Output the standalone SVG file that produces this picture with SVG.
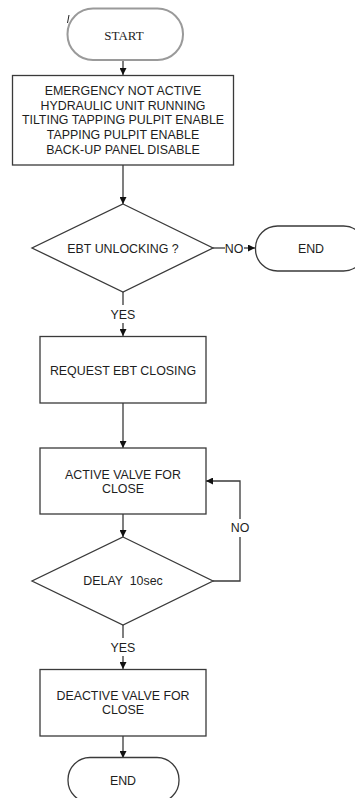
<svg xmlns="http://www.w3.org/2000/svg" width="355" height="798" viewBox="0 0 355 798">
  <style>
    .box { fill: #fff; stroke: #3a3a3a; stroke-width: 1.3; }
    .term { fill: #fff; stroke: #3a3a3a; stroke-width: 1.3; }
    .start { fill: #fff; stroke: #9a9a9a; stroke-width: 2; }
    .edge { fill: none; stroke: #3a3a3a; stroke-width: 1.3; }
    text { font-family: "Liberation Sans", Arial, sans-serif; font-size: 12.4px; fill: #1e1e1e; text-anchor: middle; }
    .serif { font-family: "Liberation Serif", "Times New Roman", serif; font-size: 13px; }
    .lbl { font-size: 12.4px; }
  </style>
  <defs>
    <marker id="arrow" viewBox="0 0 10 10" refX="10" refY="5" markerWidth="7" markerHeight="7" markerUnits="userSpaceOnUse" orient="auto">
      <path d="M0,0 L10,5 L0,10 z" fill="#111"/>
    </marker>
  </defs>
  <rect width="355" height="798" fill="#fff"/>

  <g id="connectors">
    <line class="edge" x1="123" y1="60" x2="123" y2="75" marker-end="url(#arrow)"/>
    <line class="edge" x1="123" y1="165" x2="123" y2="204" marker-end="url(#arrow)"/>
    <line class="edge" x1="213" y1="248" x2="225" y2="248"/>
    <line class="edge" x1="244" y1="248" x2="255" y2="248" marker-end="url(#arrow)"/>
    <line class="edge" x1="123" y1="292" x2="123" y2="305"/>
    <line class="edge" x1="123" y1="323" x2="123" y2="336" marker-end="url(#arrow)"/>
    <line class="edge" x1="123" y1="403" x2="123" y2="448" marker-end="url(#arrow)"/>
    <line class="edge" x1="123" y1="514" x2="123" y2="537" marker-end="url(#arrow)"/>
    <polyline class="edge" points="213,581 240,581 240,537"/>
    <polyline class="edge" points="240,519 240,481 206,481" marker-end="url(#arrow)"/>
    <line class="edge" x1="123" y1="625" x2="123" y2="638"/>
    <line class="edge" x1="123" y1="656" x2="123" y2="669" marker-end="url(#arrow)"/>
    <line class="edge" x1="123" y1="736" x2="123" y2="758" marker-end="url(#arrow)"/>
    <text class="lbl" x="234" y="252.5">NO</text>
    <text class="lbl" x="123" y="318.5">YES</text>
    <text class="lbl" x="240" y="531.5">NO</text>
    <text class="lbl" x="123" y="651.5">YES</text>
  </g>

  <g id="start">
    <rect class="start" x="67.5" y="8.5" width="115.5" height="51.5" rx="25.5"/>
    <path d="M69,15 L67.5,23" stroke="#222" stroke-width="1" fill="none"/>
    <text class="serif" x="124" y="39.5">START</text>
  </g>

  <g id="conditions">
    <rect class="box" x="12.5" y="75.5" width="221" height="89.5"/>
    <text x="123" y="94.5">EMERGENCY NOT ACTIVE</text>
    <text x="123" y="109.5">HYDRAULIC UNIT RUNNING</text>
    <text x="123" y="123.5">TILTING TAPPING PULPIT ENABLE</text>
    <text x="123" y="138.5">TAPPING PULPIT ENABLE</text>
    <text x="123" y="153.5">BACK-UP PANEL DISABLE</text>
  </g>

  <g id="ebt-unlocking">
    <polygon class="box" points="123,204 213,248 123,292 32,248"/>
    <text x="123" y="252.5">EBT UNLOCKING ?</text>
  </g>

  <g id="end-right">
    <rect class="term" x="255.5" y="226" width="110" height="45" rx="22"/>
    <text x="311" y="252.5">END</text>
  </g>

  <g id="request-closing">
    <rect class="box" x="40" y="336.5" width="166" height="66.5"/>
    <text x="123" y="374.5">REQUEST EBT CLOSING</text>
  </g>

  <g id="active-valve">
    <rect class="box" x="40" y="448" width="166" height="66"/>
    <text x="123" y="478.5">ACTIVE VALVE FOR</text>
    <text x="123" y="492.5">CLOSE</text>
  </g>

  <g id="delay">
    <polygon class="box" points="123,537 213,581 123,625 32,581"/>
    <text x="123" y="585" xml:space="preserve">DELAY  10sec</text>
  </g>

  <g id="deactive-valve">
    <rect class="box" x="40" y="669.5" width="166" height="66.5"/>
    <text x="123" y="699.5">DEACTIVE VALVE FOR</text>
    <text x="123" y="713.5">CLOSE</text>
  </g>

  <g id="end-bottom">
    <rect class="term" x="68" y="757.5" width="111" height="45" rx="22"/>
    <text x="123" y="784.5">END</text>
  </g>
</svg>
